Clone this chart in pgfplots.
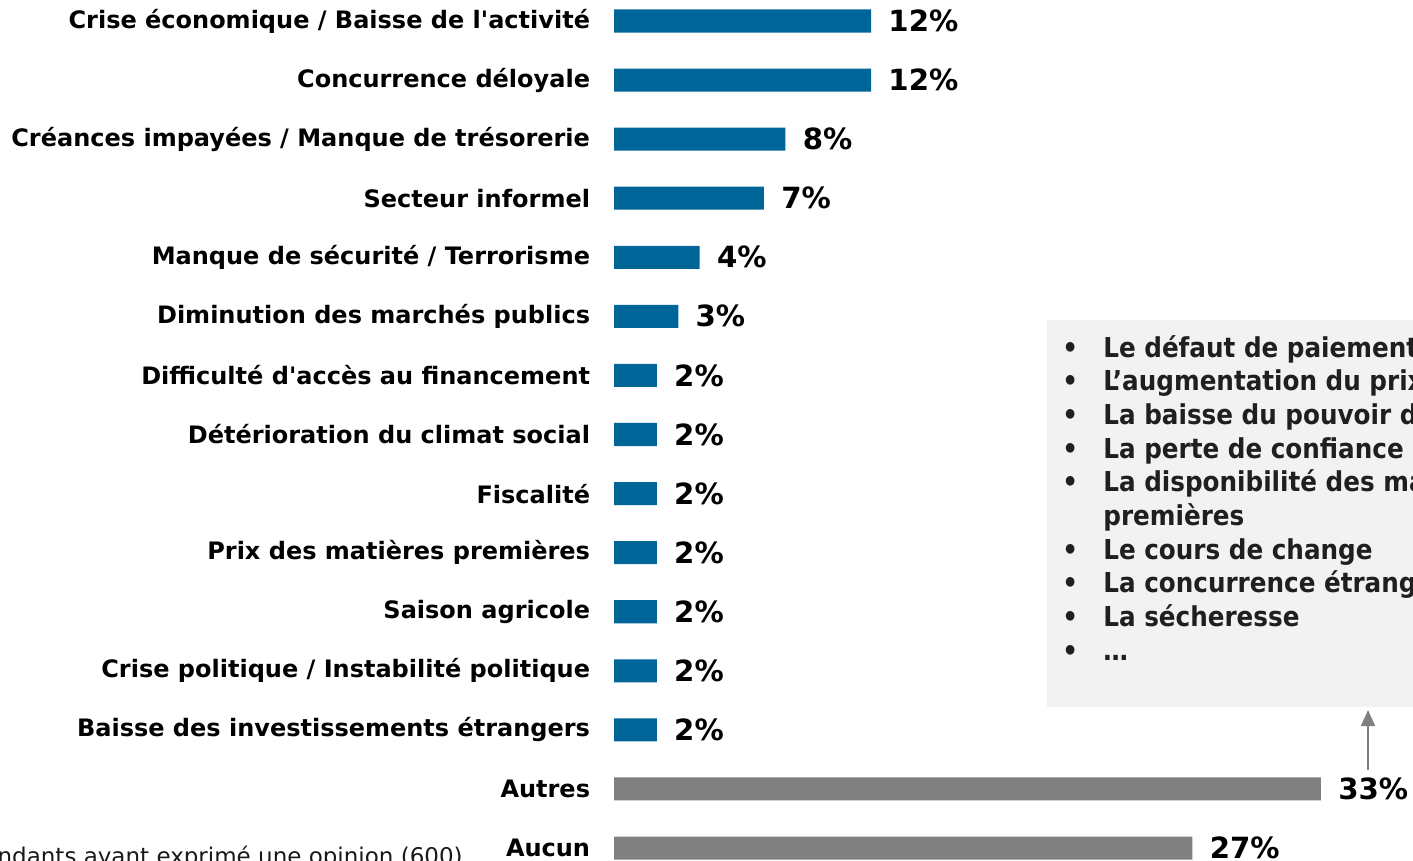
\documentclass[border=0pt]{standalone}
\usepackage{pgfplots}
\pgfplotsset{compat=1.18}
\usepackage{fontspec}
\setmainfont{DejaVu Sans}
\newfontfamily\condfont{DejaVu Sans Condensed}
\usetikzlibrary{arrows.meta}
\definecolor{barblue}{HTML}{006699}
\definecolor{bargray}{HTML}{808080}
\definecolor{boxgray}{HTML}{F2F2F2}
\begin{document}
\begin{tikzpicture}
\useasboundingbox (0,0) rectangle (706.5pt,-430.5pt);
\clip (0,0) rectangle (706.5pt,-430.5pt);
% note box
\fill[boxgray] (523.5pt,-160pt) rectangle (720pt,-353.5pt);
\begin{axis}[
  at={(307pt,-430.5pt)}, anchor=south west,
  scale only axis, width=399.5pt, height=430.5pt,
  xbar, bar width=0.39, bar shift=0pt,
  xmin=0, xmax=37.30,
  ymin=-0.3555, ymax=14.22, y dir=reverse,
  axis line style={draw=none},
  xtick=\empty,
  ytick={0,...,14},
  ytick style={draw=none},
  yticklabels={Crise économique / Baisse de l\textquotesingle activité,
    Concurrence déloyale,
    Créances impayées / Manque de trésorerie,
    Secteur informel,
    Manque de sécurité / Terrorisme,
    Diminution des marchés publics,
    Difficulté d\textquotesingle accès au financement,
    Détérioration du climat social,
    Fiscalité,
    Prix des matières premières,
    Saison agricole,
    Crise politique / Instabilité politique,
    Baisse des investissements étrangers,
    Autres,
    Aucun},
  yticklabel style={font=\fontsize{12}{14}\selectfont\bfseries, inner sep=0pt, anchor=east, xshift=-7.5pt},
  nodes near coords={\pgfmathprintnumber[assume math mode=true]{\pgfplotspointmeta}\%},
  nodes near coords style={font=\fontsize{14.6}{17}\selectfont\bfseries, inner sep=0pt, anchor=west, xshift=8.5pt},
  clip=false,
]
\addplot[fill=barblue, draw=none] coordinates {
  (12,0) (12,1) (8,2) (7,3) (4,4) (3,5) (2,6) (2,7) (2,8) (2,9) (2,10) (2,11) (2,12)};
\addplot[fill=bargray, draw=none] coordinates {(33,13) (27,14)};
\end{axis}
% bullet list in box
\begin{scope}[every node/.style={anchor=base west, inner sep=0pt, font=\condfont\fontsize{13.7}{16}\selectfont\bfseries, text=black!88}]
\foreach \t [count=\i from 0] in {Le défaut de paiement des clients,
  L’augmentation du prix des intrants,
  La baisse du pouvoir d’achat,
  La perte de confiance des clients,
  La disponibilité des matières,
  ,
  Le cours de change,
  La concurrence étrangère,
  La sécheresse,
  …}{
  \node at (551.5pt,-178.5pt-\i*16.85pt) {\t};
}
\node at (551.5pt,-178.5pt-5*16.85pt) {premières};
\foreach \i in {0,1,2,3,4,6,7,8,9}{
  \node at (531pt,-178.5pt-\i*16.85pt) {•};
}
\end{scope}
% arrow
\draw[bargray, line width=0.8pt, -{Triangle[width=7pt,length=8pt]}] (684pt,-385pt) -- (684pt,-355pt);
% base note
\node[anchor=base east, inner sep=0pt, font=\fontsize{11.5}{14}\selectfont, text=black!90] at (231.5pt,-432pt) {Base : Répondants ayant exprimé une opinion (600)};
\end{tikzpicture}
\end{document}
